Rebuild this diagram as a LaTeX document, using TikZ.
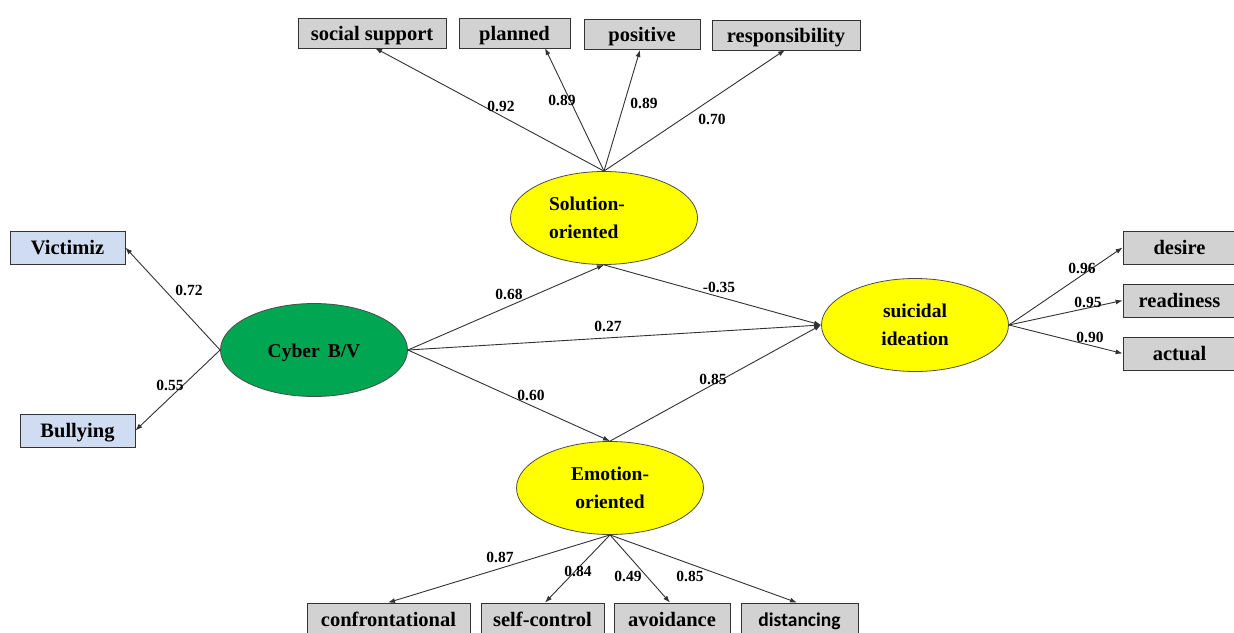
\documentclass[tikz,border=0pt]{standalone}
\usepackage{fontspec}
\setmainfont{Liberation Serif}
\newfontfamily\carlito{Carlito}
\usetikzlibrary{arrows.meta,shapes.geometric}
\definecolor{boxgray}{RGB}{210,210,210}
\definecolor{boxblue}{RGB}{208,220,242}
\definecolor{latgreen}{RGB}{0,166,81}
\definecolor{latyellow}{RGB}{255,255,0}
\definecolor{linegray}{RGB}{50,50,50}
\begin{document}
\begin{tikzpicture}[x=1pt,y=-1pt,
  obs/.style={draw=black!80, line width=0.8pt, fill=boxgray, inner sep=0pt, minimum height=30pt,
    text height=14pt, text depth=0pt,
    font=\fontsize{20.5}{22}\selectfont\bfseries},
  obsblue/.style={obs, fill=boxblue},
  lat/.style={ellipse, draw=black!70, line width=0.8pt, fill=latyellow, inner sep=0pt,
    minimum width=187pt, minimum height=93pt, align=center,
    font=\fontsize{19.5}{28}\selectfont\bfseries},
  path/.style={draw=linegray, line width=0.9pt, -{Latex[length=7pt,width=5pt]}},
  coef/.style={font=\fontsize{15.5}{17}\selectfont\bfseries, inner sep=0pt}
]
\useasboundingbox (0,0) rectangle (1234,632);
\fill[white] (0,0) rectangle (1234,632);

% latent variables
\node[lat] (sol) at (604,218) {};
\node[font=\fontsize{19.5}{28}\selectfont\bfseries, align=left] (soltext) at (587,218) {Solution-\\oriented};
\node[lat, fill=latgreen, text height=14pt, text depth=0pt] (cyb) at (314,350) {Cyber\, B/V};
\node[lat] (sui) at (915,325) {suicidal\\ideation};
\node[lat] (emo) at (610,488) {Emotion-\\oriented};

% observed: solution
\node[obs, minimum width=148pt] (ss) at (372,33) {social support};
\node[obs, minimum width=111pt] (pl) at (514.5,33) {planned};
\node[obs, minimum width=116pt] (po) at (642,34.5) {positive};
\node[obs, minimum width=148pt] (re) at (786,35) {responsibility};

% observed: cyber
\node[obsblue, minimum width=115pt, minimum height=33pt] (vi) at (67.5,247.5) {Victimiz};
\node[obsblue, minimum width=115pt, minimum height=33pt] (bu) at (77.5,430.5) {Bullying};

% observed: suicidal
\node[obs, minimum width=113pt, minimum height=33pt] (de) at (1179.5,247.5) {desire};
\node[obs, minimum width=113pt, minimum height=33pt] (rd) at (1179.5,300.5) {readiness};
\node[obs, minimum width=113pt, minimum height=33pt] (ac) at (1179.5,353.5) {actual};

% observed: emotion
\node[obs, minimum width=163pt, minimum height=32pt] (co) at (388.5,619) {confrontational};
\node[obs, minimum width=123pt, minimum height=32pt] (sc) at (542.5,619) {self-control};
\node[obs, minimum width=116pt, minimum height=32pt] (av) at (672,619) {avoidance};
\node[obs, minimum width=117pt, minimum height=32pt, font=\fontsize{19.5}{22}\selectfont\bfseries\carlito] (di) at (799.5,619) {distancing};

% loadings: solution
\draw[path] (sol.north) -- (375,48) coordinate (ssend);
\draw[path] (sol.north) -- (545,48);
\draw[path] (sol.north) -- (640,50);
\draw[path] (sol.north) -- (785,50);
\node[coef] (l1) at (501,106) {0.92};
\node[coef] (l2) at (562,100) {0.89};
\node[coef] (l3) at (644,103) {0.89};
\node[coef] (l4) at (712,119) {0.70};

% cyber indicators
\draw[path] (cyb.west) -- (vi.east);
\draw[path] (cyb.west) -- (bu.east);
\node[coef] (l5) at (189,290) {0.72};
\node[coef] (l6) at (170,385) {0.55};

% structural
\draw[path] (cyb.east) -- (sol.south);
\draw[path] (cyb.east) -- (sui.west);
\draw[path] (cyb.east) -- (emo.north);
\draw[path] (sol.south) -- (sui.west);
\draw[path] (emo.north) -- (sui.west);
\node[coef] (l7) at (509,294) {0.68};
\node[coef] (l8) at (608,326) {0.27};
\node[coef] (l9) at (719,287) {-0.35};
\node[coef] (l10) at (531,395) {0.60};
\node[coef] (l11) at (713,379) {0.85};

% suicidal indicators
\draw[path] (sui.east) -- (de.west);
\draw[path] (sui.east) -- (rd.west);
\draw[path] (sui.east) -- (ac.west);
\node[coef] (l12) at (1082,268) {0.96};
\node[coef] (l13) at (1088,302) {0.95};
\node[coef] (l14) at (1090,337) {0.90};

% emotion indicators
\draw[path] (emo.south) -- (co.north -| 388,0);
\draw[path] (emo.south) -- (sc.north -| 545,0);
\draw[path] (emo.south) -- (av.north -| 670,0);
\draw[path] (emo.south) -- (di.north -| 797,0);
\node[coef] (l15) at (500,557) {0.87};
\node[coef] (l16) at (578,571) {0.84};
\node[coef] (l17) at (628,576) {0.49};
\node[coef] (l18) at (690,576) {0.85};
\end{tikzpicture}
\end{document}
